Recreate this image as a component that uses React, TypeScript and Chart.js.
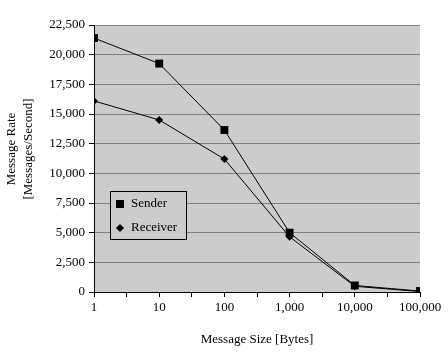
import React, { useEffect, useRef } from "react";
import { Chart, registerables } from "chart.js";

Chart.register(...registerables);

const xLabels = ["1", "10", "100", "1,000", "10,000", "100,000"];
const senderValues = [21400, 19250, 13650, 5000, 550, 80];
const receiverValues = [16100, 14500, 11200, 4650, 480, 40];
const seriesNames = ["Sender", "Receiver"];
const yTitleLines = ["Message Rate", "[Messages/Second]"];
const xTitle = "Message Size [Bytes]";

const FONT = "'Liberation Serif', 'DejaVu Serif', serif";

const bgPlugin = {
  id: "plotBg",
  beforeDraw(chart: any) {
    const { ctx, chartArea } = chart;
    ctx.save();
    ctx.fillStyle = "#cccccc";
    ctx.fillRect(chartArea.left, chartArea.top, chartArea.right - chartArea.left, chartArea.bottom - chartArea.top);
    ctx.restore();
  },
};

const overlayPlugin = {
  id: "overlay",
  afterDraw(chart: any) {
    const { ctx, chartArea } = chart;
    ctx.save();
    // y title
    ctx.fillStyle = "#000";
    ctx.font = `13px ${FONT}`;
    ctx.textAlign = "center";
    ctx.textBaseline = "middle";
    const cy = 149;
    ctx.save();
    ctx.translate(12, cy);
    ctx.rotate(-Math.PI / 2);
    ctx.fillText(yTitleLines[0], 0, 0);
    ctx.restore();
    ctx.save();
    ctx.translate(29, cy);
    ctx.rotate(-Math.PI / 2);
    ctx.fillText(yTitleLines[1], 0, 0);
    ctx.restore();

    // legend box
    const bx = 110.5, by = 191.5, bw = 76, bh = 48;
    ctx.fillStyle = "#cccccc";
    ctx.fillRect(bx, by, bw, bh);
    ctx.strokeStyle = "#000";
    ctx.lineWidth = 1;
    ctx.strokeRect(bx, by, bw, bh);
    ctx.fillStyle = "#000";
    ctx.fillRect(116, 200, 8, 8);
    ctx.beginPath();
    ctx.moveTo(120, 224);
    ctx.lineTo(124, 228);
    ctx.lineTo(120, 232);
    ctx.lineTo(116, 228);
    ctx.closePath();
    ctx.fill();
    ctx.textAlign = "left";
    ctx.fillText(seriesNames[0], 131, 204);
    ctx.fillText(seriesNames[1], 131, 228);
    ctx.restore();
  },
};

export default function App() {
  const ref = useRef<HTMLCanvasElement | null>(null);
  useEffect(() => {
    if (!ref.current) return;
    const chart = new Chart(ref.current, {
      type: "line",
      data: {
        datasets: [
          {
            label: seriesNames[0],
            data: senderValues.map((v, i) => ({ x: i, y: v })),
            borderColor: "#000",
            backgroundColor: "#000",
            borderWidth: 1,
            pointStyle: "rect",
            pointRadius: 5.6,
            pointBorderWidth: 0,
            tension: 0,
          },
          {
            label: seriesNames[1],
            data: receiverValues.map((v, i) => ({ x: i, y: v })),
            borderColor: "#000",
            backgroundColor: "#000",
            borderWidth: 1,
            pointStyle: "rectRot",
            pointRadius: 4,
            pointBorderWidth: 0,
            tension: 0,
          },
        ],
      },
      options: {
        animation: false,
        responsive: false,
        layout: { padding: { left: 0, right: 28, top: 25, bottom: 0 } },
        plugins: { legend: { display: false }, tooltip: { enabled: false } },
        scales: {
          x: {
            type: "linear",
            min: 0,
            max: 5,
            afterFit: (s: any) => {
              s.height = 68;
            },
            border: { color: "#000", width: 1 },
            grid: { drawOnChartArea: false, color: "#000", tickLength: 5 },
            ticks: {
              stepSize: 0.5,
              autoSkip: false,
              maxRotation: 0,
              padding: 3,
              color: "#000",
              font: { family: FONT, size: 13 },
              callback: (v: any) => (Number.isInteger(v) ? xLabels[v] : ""),
            },
            title: {
              display: true,
              text: xTitle,
              color: "#000",
              font: { family: FONT, size: 13 },
              padding: { top: 0, bottom: 13 },
            },
          },
          y: {
            min: 0,
            max: 22500,
            afterFit: (s: any) => {
              s.width = 94;
            },
            border: { color: "#000", width: 1 },
            grid: { color: "#808080", tickColor: "#000", tickLength: 5 },
            ticks: {
              stepSize: 2500,
              padding: 4,
              color: "#000",
              font: { family: FONT, size: 13 },
              callback: (v: any) => Number(v).toLocaleString("en-US"),
            },
          },
        },
      },
      plugins: [bgPlugin, overlayPlugin],
    });
    return () => chart.destroy();
  }, []);
  return (
    <div style={{ position: "fixed", left: 0, top: 0, width: 448, height: 360, background: "#fff" }}>
      <canvas ref={ref} width={448} height={360} style={{ width: 448, height: 360 }} />
    </div>
  );
}
